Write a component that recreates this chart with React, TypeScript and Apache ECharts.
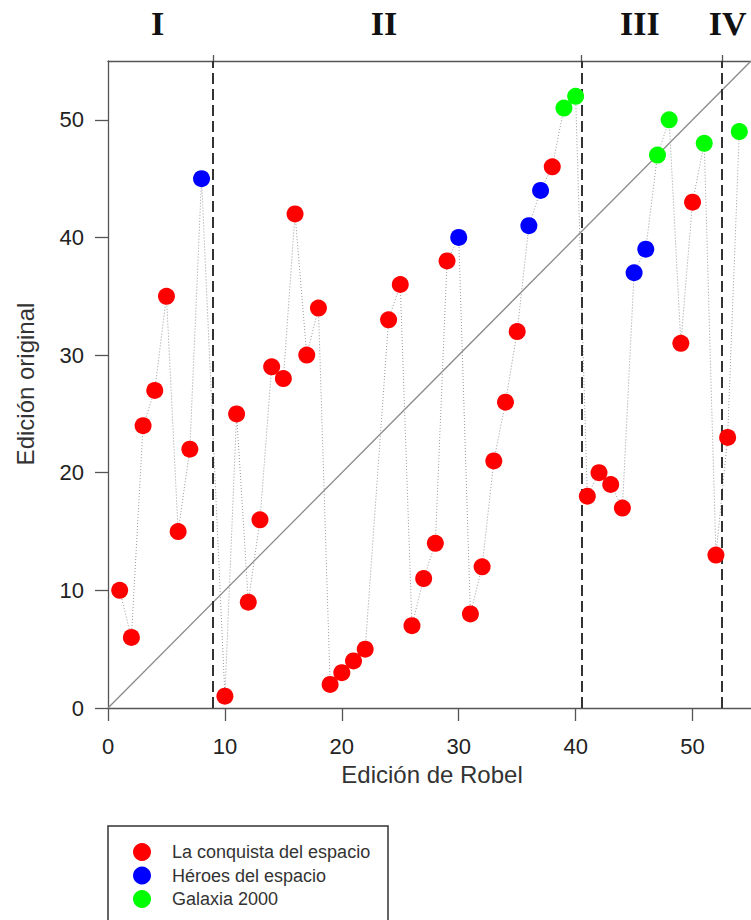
import React, { useEffect, useRef } from "react";
import * as echarts from "echarts";

// Edición de Robel (x) -> Edición original (y)
const edicionRobel = [1, 2, 3, 4, 5, 6, 7, 8, 10, 11, 12, 13, 14, 15, 16, 17, 18, 19, 20, 21, 22, 24, 25, 26, 27, 28, 29, 30, 31, 32, 33, 34, 35, 36, 37, 38, 39, 40, 41, 42, 43, 44, 45, 46, 47, 48, 49, 50, 51, 52, 53, 54];
const edicionOriginal = [10, 6, 24, 27, 35, 15, 22, 45, 1, 25, 9, 16, 29, 28, 42, 30, 34, 2, 3, 4, 5, 33, 36, 7, 11, 14, 38, 40, 8, 12, 21, 26, 32, 41, 44, 46, 51, 52, 18, 20, 19, 17, 37, 39, 47, 50, 31, 43, 48, 13, 23, 49];
// 0 = La conquista del espacio, 1 = Héroes del espacio, 2 = Galaxia 2000
const coleccion = [0, 0, 0, 0, 0, 0, 0, 1, 0, 0, 0, 0, 0, 0, 0, 0, 0, 0, 0, 0, 0, 0, 0, 0, 0, 0, 0, 1, 0, 0, 0, 0, 0, 1, 1, 0, 2, 2, 0, 0, 0, 0, 1, 1, 2, 2, 0, 0, 2, 0, 0, 2];
const nombresColeccion = ["La conquista del espacio", "Héroes del espacio", "Galaxia 2000"];
const coloresColeccion = ["#ff0000", "#0000ff", "#00ff00"];

const separadores = [9, 40.5, 52.5];
const etapas = ["I", "II", "III", "IV"];
const centroEtapas = [4.25, 23.6, 45.5, 53.0];
const marcas = [0, 10, 20, 30, 40, 50];
const X_MAX = 55;
const Y_MAX = 55;

const SANS = "'Liberation Sans', Arial, sans-serif";
const SERIF = "'Liberation Serif', 'Times New Roman', serif";

export default function App() {
  const ref = useRef<HTMLDivElement>(null);

  useEffect(() => {
    if (!ref.current) return;
    const chart = echarts.init(ref.current, undefined, { renderer: "svg" });

    const puntos = edicionRobel.map((x, i) => [x, edicionOriginal[i]]);

    const scatterSeries = nombresColeccion.map((name, k) => ({
      type: "scatter",
      name,
      data: puntos.filter((_, i) => coleccion[i] === k),
      symbol: "circle",
      symbolSize: 17,
      itemStyle: { color: coloresColeccion[k], opacity: 1 },
      z: 5,
      clip: false,
    }));

    const axisLineStyle = { color: "#555", width: 1.3 };

    chart.setOption({
      animation: false,
      backgroundColor: "#ffffff",
      grid: { left: 108, top: 61, width: X_MAX * 11.77, height: 647, containLabel: false },
      xAxis: [
        {
          type: "value",
          min: 0,
          max: X_MAX,
          interval: 10,
          axisLine: { show: true, lineStyle: axisLineStyle },
          axisTick: { show: true, length: 13, lineStyle: axisLineStyle, customValues: marcas },
          axisLabel: { show: true, fontSize: 22, color: "#222", fontFamily: SANS, margin: 27, customValues: marcas },
          splitLine: { show: false },
        },
        {
          type: "value",
          position: "top",
          min: 0,
          max: X_MAX,
          interval: 10,
          axisLine: { show: true, onZero: false, lineStyle: axisLineStyle },
          axisTick: { show: true, length: 6, lineStyle: axisLineStyle, customValues: separadores },
          axisLabel: { show: false },
          splitLine: { show: false },
        },
      ],
      yAxis: {
        type: "value",
        min: 0,
        max: Y_MAX,
        interval: 10,
        axisLine: { show: true, lineStyle: axisLineStyle },
        axisTick: { show: true, length: 13, lineStyle: axisLineStyle, customValues: marcas },
        axisLabel: { show: true, fontSize: 22, color: "#222", fontFamily: SANS, margin: 24, customValues: marcas },
        splitLine: { show: false },
      },
      legend: {
        data: nombresColeccion,
        orient: "vertical",
        left: 133,
        top: 843,
        icon: "circle",
        itemWidth: 18,
        itemHeight: 18,
        itemGap: 5.5,
        padding: 0,
        textStyle: { fontSize: 18, color: "#333", fontFamily: SANS, lineHeight: 18, padding: [0, 0, 0, 16] },
        selectedMode: false,
      },
      series: [
        {
          type: "line",
          name: "identidad",
          data: [[0, 0], [X_MAX, X_MAX]],
          symbol: "none",
          lineStyle: { color: "#8a8a8a", width: 1.3 },
          z: 1,
          silent: true,
          markLine: {
            silent: true,
            symbol: "none",
            label: { show: false },
            lineStyle: { color: "#333", width: 2, type: [11, 5] },
            data: separadores.map((v) => ({ xAxis: v })),
          },
        },
        {
          type: "line",
          name: "secuencia",
          data: puntos,
          symbol: "none",
          lineStyle: { color: "#999", width: 1, type: [1, 2] },
          z: 2,
          silent: true,
        },
        ...scatterSeries,
      ],
    });

    const etiquetas = etapas.map((t, i) => {
      const px = chart.convertToPixel({ xAxisIndex: 0 }, centroEtapas[i]) as number;
      return {
        type: "text",
        x: px,
        y: 23,
        style: {
          text: t,
          font: `bold 34px ${SERIF}`,
          fill: "#111",
          textAlign: "center",
          textVerticalAlign: "middle",
        },
      };
    });

    chart.setOption({
      graphic: [
        ...etiquetas,
        {
          type: "text",
          x: 432,
          y: 774,
          style: {
            text: "Edición de Robel",
            font: `24px ${SANS}`,
            fill: "#333",
            textAlign: "center",
            textVerticalAlign: "middle",
          },
        },
        {
          type: "text",
          x: 25,
          y: 384,
          rotation: Math.PI / 2,
          style: {
            text: "Edición original",
            font: `24px ${SANS}`,
            fill: "#333",
            textAlign: "center",
            textVerticalAlign: "middle",
          },
        },
        {
          type: "rect",
          shape: { x: 108, y: 826, width: 280, height: 200 },
          style: { fill: "none", stroke: "#333", lineWidth: 1.5 },
        },
      ],
    });

    return () => chart.dispose();
  }, []);

  return (
    <div
      ref={ref}
      style={{ position: "absolute", left: 0, top: 0, width: 751, height: 920, background: "#fff" }}
    />
  );
}
